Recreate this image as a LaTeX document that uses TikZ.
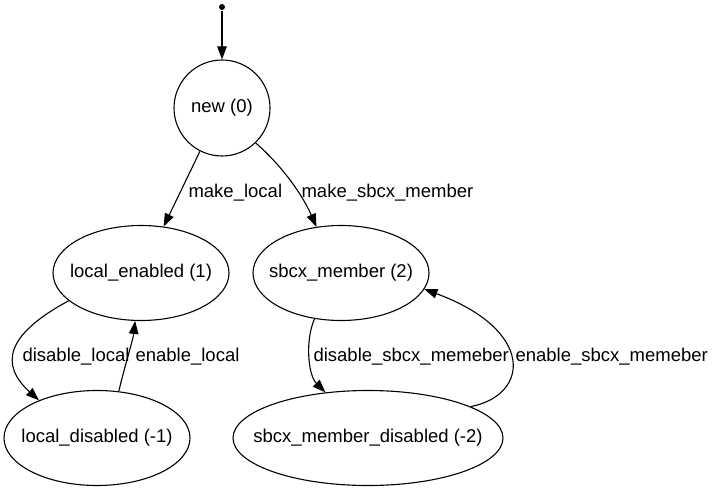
\documentclass[tikz,border=0pt]{standalone}
\usepackage{fontspec}
\setmainfont{Liberation Sans}
\usetikzlibrary{arrows.meta,shapes.geometric}

\begin{document}
\begin{tikzpicture}[x=1bp,y=-1bp,>={Triangle[length=13bp,width=9.5bp]},
 font=\fontsize{18.5bp}{22bp}\selectfont,line width=1.1bp,
 state/.style={draw,ellipse,inner sep=0pt,minimum height=95bp},
 lbl/.style={anchor=west,inner sep=0pt}]
\useasboundingbox (0,0) rectangle (713,493);
\node[circle,fill,inner sep=0pt,minimum size=6bp] (init) at (222,7) {};
\node[draw,circle,inner sep=0pt,minimum size=96bp] (new) at (222,108) {new (0)};
\foreach \n/\x/\y/\w/\lab in {locen/141/273/176/local\_enabled (1),
 sbcx/341/273/176/sbcx\_member (2),
 locdis/97/438/186/local\_disabled (-1),
 sbcxdis/368/438/270/sbcx\_member\_disabled (-2)}
 \node[state,minimum width=\w bp] (\n) at (\x,\y) {\makebox[0pt]{\lab}};
% transitions
\draw[->] (init) -- (new);
\draw[->] (new.243) -- (locen.64);
\draw[->] (new.314) .. controls (282,166) and (302,194) .. (sbcx.118);
\draw[->] (locen.201) .. controls (5,335) and (0,365) .. (locdis.147);
\draw[->] (locdis.65) .. controls (125,365) and (133,340) .. (locen.263);
\draw[->] (sbcx.240) .. controls (305,340) and (308,375) .. (sbcxdis.133);
\draw[->] (sbcxdis.17) .. controls (530,395) and (535,330) .. (sbcx.349);
\foreach \n/\x/\y/\lab in {ml/188/193/make\_local,
 ms/301/193/make\_sbcx\_member,
 dl/22/357/disable\_local,
 el/135/357/enable\_local,
 ds/313/357/disable\_sbcx\_memeber,
 es/515/357/enable\_sbcx\_memeber}
 \node[lbl] (\n) at (\x,\y) {\lab};
\end{tikzpicture}
\end{document}
